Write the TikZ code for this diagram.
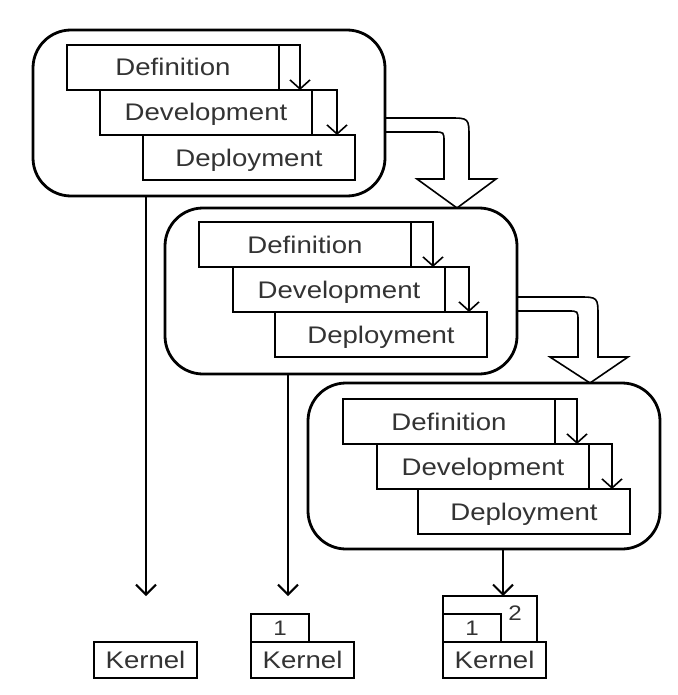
\documentclass[tikz,border=0pt]{standalone}
\usepackage{fontspec}
\newfontfamily\diagfont[FakeStretch=1.15]{Liberation Sans}
\usetikzlibrary{arrows.meta,positioning,calc}

\tikzset{
  phase/.style={draw, line width=2.8pt, rounded corners=38pt, minimum width=352pt,
    minimum height=166pt, inner sep=0pt, outer sep=0pt, anchor=north west},
  stage/.style={draw, line width=1.6pt, minimum width=212pt, minimum height=45pt,
    inner sep=0pt, outer sep=0pt, text=black!80, text height=17pt, text depth=0pt,
    font=\diagfont\fontsize{24}{24}\selectfont},
  kernel/.style={stage, minimum width=103pt, minimum height=36pt},
  layer/.style={draw, line width=1.6pt, inner sep=0pt, outer sep=0pt, text=black!80,
    text height=15pt, text depth=0pt, font=\diagfont\fontsize{21}{21}\selectfont,
    anchor=south west},
  steparrow/.style={line width=1.6pt, -{Straight Barb[length=9pt,width=20pt,line width=1.6pt]}},
  outarrow/.style={line width=2.6pt, -{Straight Barb[length=10pt,width=20pt,line width=2pt]}},
  hollow/.style={line width=1.6pt, line join=miter},
}

\begin{document}
\begin{tikzpicture}[x=1pt, y=1pt]
  \useasboundingbox (0,0) rectangle (677,-695);

  % first pass
  \node[phase] (g1) at (33,-30) {};
  \node[stage, anchor=north west] (def1) at ($(g1.north west)+(34,-15)$) {Definition};
  \node[stage, below right=0pt and 33pt of def1.south west] (dev1) {Development};
  \node[stage, below right=0pt and 43pt of dev1.south west] (dep1) {Deployment};
  \draw[steparrow] (def1.north east) -| ($(dev1.north east)+(-12,0)$);
  \draw[steparrow] (dev1.north east) -| ($(dep1.north east)+(-18,0)$);

  % second pass
  \node[phase] (g2) at (165,-208) {};
  \node[stage, anchor=north west] (def2) at ($(g2.north west)+(34,-14)$) {Definition};
  \node[stage, below right=0pt and 34pt of def2.south west] (dev2) {Development};
  \node[stage, below right=0pt and 42pt of dev2.south west] (dep2) {Deployment};
  \draw[steparrow] (def2.north east) -| ($(dev2.north east)+(-12,0)$);
  \draw[steparrow] (dev2.north east) -| ($(dep2.north east)+(-18,0)$);

  % third pass
  \node[phase] (g3) at (308,-383) {};
  \node[stage, anchor=north west] (def3) at ($(g3.north west)+(35,-16)$) {Definition};
  \node[stage, below right=0pt and 34pt of def3.south west] (dev3) {Development};
  \node[stage, below right=0pt and 41pt of dev3.south west] (dep3) {Deployment};
  \draw[steparrow] (def3.north east) -| ($(dev3.north east)+(-12,0)$);
  \draw[steparrow] (dev3.north east) -| ($(dep3.north east)+(-18,0)$);

  % hollow arrows between passes
  \draw[hollow] (g1.east |- 0,-118) -- (449,-118) .. controls (469,-118) .. (469,-138)
    -- (469,-179) -- (496,-179) -- (g2.north -| 457,0) -- (417,-179) -- (444,-179)
    -- (444,-142) .. controls (444,-132) .. (434,-132) -- (g1.east |- 0,-132);
  \draw[hollow] (g2.east |- 0,-297) -- (578,-297) .. controls (598,-297) .. (598,-317)
    -- (598,-357) -- (628,-357) -- (g3.north -| 590,0) -- (550,-357) -- (578,-357)
    -- (578,-321) .. controls (578,-311) .. (568,-311) -- (g2.east |- 0,-311);

  % kernels
  \node[kernel] (k1) at (145.5,-660) {Kernel};
  \node[kernel] (k2) at (302.5,-660) {Kernel};
  \node[layer, minimum width=58pt, minimum height=28pt] (one2) at (k2.north west) {1};
  \node[kernel] (k3) at (494.5,-660) {Kernel};
  \node[layer, minimum width=94pt, minimum height=46pt] (two3) at (k3.north west) {};
  \node[layer, minimum width=58pt, minimum height=28pt] (one3) at (k3.north west) {1};
  \node[layer, draw=none, anchor=center] (lab2) at ($(two3.north east)+(-22,-17)$) {2};

  % results of each pass
  \coordinate (tip1) at (146,-596);
  \coordinate (tip2) at (288,-596);
  \coordinate (tip3) at ($(two3.north west)+(60,0)$);
  \draw[outarrow] (g1.south -| tip1) -- (tip1);
  \draw[outarrow] (g2.south -| tip2) -- (tip2);
  \draw[outarrow] (g3.south -| tip3) -- (tip3);
\end{tikzpicture}
\end{document}
